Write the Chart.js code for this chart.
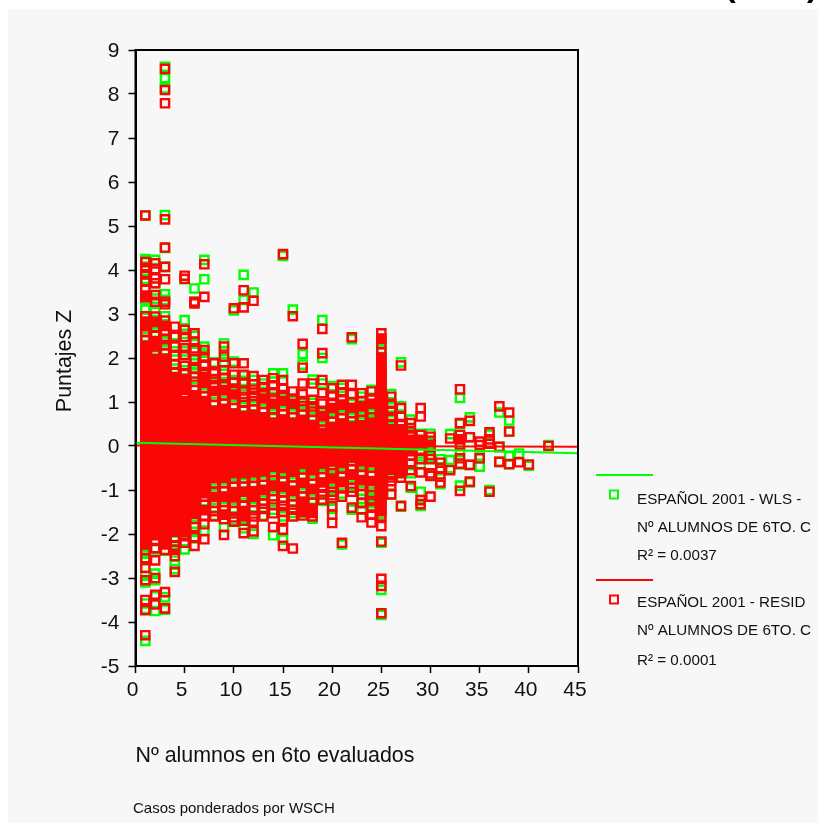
<!DOCTYPE html>
<html>
<head>
<meta charset="utf-8">
<title>Puntajes Z</title>
<script src="https://cdn.jsdelivr.net/npm/chart.js@4"></script>
<style>
  html, body { margin: 0; padding: 0; background: #fff; }
  canvas { display: block; }
</style>
</head>
<body>
<canvas id="chart" width="818" height="823"></canvas>
<script>
  // RESID values, one list per "Nº alumnos" column, highest first
  var resid1 = [5.24,4.18,4.05,3.9,3.75,3.55,3.42,3.38,2.95,2.83,2.72,2.6,2.4,2.28,2.16,2.03,1.95,1.88,1.8,1.71,1.64,1.57,1.49,1.41,1.33,1.26,1.18,1.1,1.03,.95,.87,.79,.72,.64,.56,.49,.41,.33,.26,.18,.1,.02,-.05,-.13,-.2,-.28,-.36,-.44,-.51,-.59,-.66,-.74,-.82,-.9,-.97,-1.05,-1.13,-1.2,-1.28,-1.36,-1.43,-1.51,-1.59,-1.66,-1.74,-1.82,-1.89,-1.97,-2.05,-2.13,-2.24,-2.36,-2.55,-2.77,-3.05,-3.5,-3.73,-4.3];
  var resid2 = [4.15,4.02,3.81,3.7,3.43,3.28,2.94,2.82,2.7,2.5,2.38,2.26,2.14,1.98,1.9,1.83,1.75,1.67,1.6,1.52,1.44,1.37,1.29,1.21,1.13,1.06,.98,.9,.82,.75,.67,.59,.52,.44,.36,.28,.21,.13,.05,-.02,-.1,-.18,-.26,-.33,-.41,-.49,-.56,-.64,-.72,-.8,-.87,-.95,-1.03,-1.1,-1.18,-1.26,-1.33,-1.41,-1.49,-1.57,-1.64,-1.72,-1.8,-1.87,-1.95,-2.03,-2.15,-2.32,-2.6,-3,-3.38,-3.6];
  var resid3 = [8.57,8.09,7.79,5.15,4.51,4.07,3.79,3.28,3.22,2.85,2.73,2.62,2.43,2.3,2.1,1.98,1.86,1.75,1.66,1.54,1.46,1.38,1.3,1.23,1.15,1.07,1,.92,.84,.76,.69,.61,.53,.46,.38,.3,.22,.15,.07,-.01,-.08,-.16,-.24,-.32,-.39,-.47,-.55,-.62,-.7,-.78,-.86,-.93,-1.01,-1.09,-1.16,-1.24,-1.32,-1.4,-1.47,-1.55,-1.63,-1.7,-1.78,-1.86,-1.94,-2.02,-2.12,-2.24,-2.36,-3.32,-3.69];
  var resid4 = [2.71,2.48,2.26,2.05,1.85,1.68,1.56,1.44,1.32,1.22,1.14,1.06,.99,.91,.83,.75,.68,.6,.52,.45,.37,.29,.21,.14,.06,-.02,-.09,-.17,-.25,-.33,-.4,-.48,-.56,-.63,-.71,-.79,-.87,-.94,-1.02,-1.1,-1.17,-1.25,-1.33,-1.41,-1.48,-1.56,-1.64,-1.71,-1.79,-1.87,-1.95,-2.07,-2.27,-2.36,-2.5,-2.86];
  var resid5 = [3.87,3.8,2.64,2.48,2.22,2.07,1.82,1.65,1.52,1.4,1.28,1.16,1.02,.94,.87,.79,.71,.64,.56,.48,.4,.33,.25,.17,.1,.02,-.06,-.14,-.21,-.29,-.37,-.44,-.52,-.6,-.68,-.75,-.83,-.91,-.98,-1.06,-1.14,-1.22,-1.29,-1.37,-1.45,-1.52,-1.6,-1.72,-1.84,-1.95,-2.05,-2.2];
  var resid6 = [3.28,3.24,2.56,2.37,2.22,1.98,1.75,1.58,1.46,1.27,1.15,1.03,.92,.85,.77,.69,.62,.54,.46,.38,.31,.23,.15,.08,0,-.08,-.16,-.23,-.31,-.39,-.46,-.54,-.62,-.7,-.77,-.85,-.93,-1,-1.08,-1.16,-1.24,-1.31,-1.39,-1.47,-1.54,-1.66,-1.84,-2.07,-2.27];
  var resid7 = [4.13,3.39,2.18,2.03,1.82,1.68,1.56,1.44,1.32,1.13,1.02,.94,.86,.78,.7,.63,.55,.47,.4,.32,.24,.16,.09,.01,-.07,-.14,-.22,-.3,-.38,-.45,-.53,-.61,-.68,-.76,-.84,-.92,-.99,-1.07,-1.15,-1.34,-1.46,-1.58,-1.78,-2.12];
  var resid8 = [1.88,1.65,1.52,1.38,1.25,1.12,.93,.8,.68,.55,.47,.39,.31,.24,.16,.08,.01,-.07,-.15,-.22,-.3,-.38,-.46,-.53,-.61,-.73,-.85,-1.04,-1.16,-1.29,-1.48,-1.6];
  var resid9 = [2.26,2.03,1.72,1.55,1.4,1.27,1.15,.96,.84,.72,.6,.47,.4,.32,.24,.17,.09,.01,-.06,-.14,-.22,-.3,-.37,-.45,-.53,-.6,-.72,-.84,-1.03,-1.15,-1.27,-1.46,-1.56,-1.66,-2.02];
  var resid10 = [3.13,1.88,1.62,1.44,1.3,1.17,1.05,.86,.74,.62,.5,.39,.31,.23,.15,.08,0,-.08,-.15,-.23,-.31,-.39,-.46,-.54,-.62,-.74,-.93,-1.05,-1.17,-1.29,-1.48,-1.62,-1.72];
  var resid11 = [3.54,3.15,1.88,1.62,1.42,1.26,1.12,1,.8,.68,.56,.44,.35,.27,.19,.12,.04,-.04,-.11,-.19,-.27,-.35,-.42,-.5,-.62,-.74,-.92,-1.04,-1.16,-1.36,-1.48,-1.6,-1.7,-1.98];
  var resid12 = [3.3,1.59,1.4,1.28,1.14,1.02,.83,.71,.59,.47,.36,.29,.21,.13,.06,-.02,-.1,-.18,-.25,-.33,-.41,-.48,-.6,-.72,-.91,-1.03,-1.15,-1.27,-1.46,-1.6,-1.72,-1.94];
  var resid13 = [1.5,1.34,1.2,1.08,.96,.77,.65,.53,.42,.31,.23,.15,.08,0,-.08,-.16,-.23,-.31,-.39,-.46,-.58,-.7,-.88,-1,-1.12,-1.31,-1.43,-1.6];
  var resid14 = [1.54,1.38,1.22,1.08,.96,.84,.65,.53,.42,.3,.23,.15,.07,-.01,-.08,-.16,-.24,-.31,-.39,-.47,-.59,-.78,-.9,-1.02,-1.21,-1.33,-1.53,-1.84];
  var resid15 = [4.36,1.5,1.3,1.16,1.03,.91,.72,.6,.48,.36,.28,.2,.12,.04,-.03,-.11,-.19,-.26,-.34,-.42,-.5,-.62,-.81,-.93,-1.05,-1.24,-1.36,-1.5,-1.68,-1.9,-2.27];
  var resid16 = [2.95,1.24,1.08,.96,.84,.65,.53,.41,.3,.22,.15,.07,-.01,-.08,-.16,-.24,-.32,-.39,-.47,-.59,-.71,-.9,-1.02,-1.14,-1.33,-1.45,-1.6,-2.33];
  var resid17 = [2.32,1.78,1.42,1.18,1.02,.9,.71,.59,.47,.36,.28,.2,.13,.05,-.03,-.11,-.18,-.26,-.34,-.41,-.53,-.72,-.84,-.96,-1.15,-1.27,-1.38,-1.5,-1.58];
  var resid18 = [1.42,1.05,.9,.78,.59,.47,.35,.26,.18,.11,.03,-.05,-.12,-.2,-.28,-.36,-.43,-.55,-.67,-.86,-.98,-1.1,-1.29,-1.42,-1.52,-1.6];
  var resid19 = [2.66,2.11,1.5,1.2,.96,.8,.68,.56,.37,.3,.22,.14,.06,-.01,-.09,-.17,-.24,-.32,-.4,-.52,-.71,-.83,-.95,-1.1,-1.22];
  var resid20 = [1.31,1.14,.98,.86,.74,.55,.43,.34,.26,.19,.11,.03,-.04,-.12,-.2,-.28,-.35,-.43,-.62,-.74,-.86,-1.04,-1.12,-1.37,-1.56,-1.75];
  var resid21 = [1.39,1.22,1.06,.94,.82,.63,.51,.39,.3,.23,.15,.07,0,-.08,-.16,-.24,-.31,-.39,-.51,-.7,-.82,-.94,-1.15,-2.2];
  var resid22 = [2.47,1.39,1.18,1,.87,.75,.56,.44,.35,.28,.2,.12,.04,-.03,-.11,-.19,-.26,-.34,-.53,-.65,-.77,-.95,-1.04,-1.4];
  var resid23 = [1.2,1.02,.9,.78,.59,.47,.35,.26,.19,.11,.03,-.04,-.12,-.2,-.28,-.35,-.47,-.66,-.78,-.9,-1.1,-1.3,-1.62];
  var resid24 = [1.24,1.08,.96,.84,.65,.53,.41,.33,.25,.17,.1,.02,-.06,-.14,-.21,-.29,-.37,-.49,-.68,-.8,-.92,-1.12,-1.25,-1.4,-1.56,-1.74];
  var resid25 = [2.56,2.44,2.32,2.13,2.01,1.88,1.81,1.73,1.65,1.58,1.5,1.42,1.34,1.27,1.19,1.11,1.04,.96,.88,.8,.73,.65,.57,.5,.42,.34,.26,.19,.11,.03,-.04,-.12,-.2,-.28,-.35,-.43,-.51,-.58,-.66,-.74,-.82,-.89,-.97,-1.05,-1.12,-1.2,-1.28,-1.36,-1.48,-1.6,-1.82,-2.17,-3.02,-3.18,-3.8];
  var resid26 = [1.12,.96,.8,.66,.5,.38,.3,.22,.14,.06,-.02,-.1,-.18,-.26,-.34,-.42,-.54,-.66,-.8,-.9,-1.1];
  var resid27 = [1.83,.86,.66,.5,.38,.28,.18,.08,0,-.08,-.18,-.28,-.38,-.5,-.62,-.72,-1.36];
  var resid28 = [.52,.4,.25,.14,.06,-.04,-.12,-.22,-.4,-.55,-.91];
  var resid29 = [.86,.67,.25,.14,.06,-.08,-.3,-.6,-1.23,-1.32];
  var resid30 = [.21,.12,-.02,-.2,-.3,-.62,-.68,-1.15];
  var resid31 = [-.38,-.5,-.7,-.83];
  var resid32 = [.17,-.55];
  var resid33 = [1.29,.52,.25,.15,.02,-.28,-.4,-1.02];
  var resid34 = [.57,.2,-.43,-.81];
  var resid35 = [.1,.02,-.28];
  var resid36 = [.31,.15,.05,-1.04];
  var resid37 = [.9,-.02,-.36];
  var resid38 = [.76,.33,-.41];
  var resid39 = [-.37];
  var resid40 = [-.42];
  var resid42 = [0];

  // WLS values, only what shows around and through the red mass
  var wls1 = [5.24,4.25,4.2,4.08,3.9,3.8,3.4,3.33,3.1,2.48,2.05,1.36,.74,-1.3,-2.3,-2.45,-2.6,-2.95,-3.1,-3.58,-3.7,-4.43];
  var wls2 = [4.23,3.7,3.35,3.05,2.77,2.58,2.06,1.1,-.8,-1.9,-2.35,-2.9,-3.05,-3.42,-3.75];
  var wls3 = [8.62,8.36,8.13,5.25,4.5,4.07,3.45,3.32,2.95,2.56,2.38,2.18,1.96,.9,-1.45,-2.16,-2.38,-3.44,-3.72];
  var wls4 = [2.52,2.15,1.76,1.5,1.27,.1,-1.6,-2.15,-2.42,-2.7,-2.8];
  var wls5 = [3.79,2.86,2.55,2.15,1.72,1.45,1.2,.5,-1.1,-1.66,-2,-2.35];
  var wls6 = [3.58,3.28,2.5,2.14,1.88,1.65,1.34,.9,-.6,-1.6,-1.95,-2.1];
  var wls7 = [4.23,3.79,2.26,2.12,1.85,1.62,1.2,.8,-1,-1.25,-1.92];
  var wls8 = [1.9,1.42,1,.69,.2,-.9,-.97,-1.41,-1.58];
  var wls9 = [2.33,2.16,1.9,1.64,1.34,1.03,.69,-.66,-.96,-1.39,-1.85];
  var wls10 = [3.08,1.92,1.5,1.22,.93,.71,-.68,-.86,-1.41,-1.68];
  var wls11 = [3.89,3.32,1.6,1.48,1.18,.88,.68,-.56,-.85,-1.29,-1.66,-1.87];
  var wls12 = [3.49,1.5,1.2,.9,.7,-.54,-.84,-1.39,-2];
  var wls13 = [1.42,1.14,.84,.63,-.52,-.81,-1.24,-1.58];
  var wls14 = [1.65,1.12,.72,.63,-.66,-.71,-1.14,-1.45,-2.03];
  var wls15 = [4.32,1.65,1.09,.79,.59,-.56,-.74,-1.17,-1.6,-2.13];
  var wls16 = [3.1,1.02,.72,.52,-.53,-.83,-1.26,-1.52];
  var wls17 = [2.09,1.85,.96,.78,.47,-.47,-.65,-1.08,-1.52];
  var wls18 = [1.51,.98,.84,.66,.48,-.5,-.79,-1.22,-1.65];
  var wls19 = [2.86,2,1.42,.74,.44,-.46,-.64,-.94,-1.25];
  var wls20 = [1.36,.8,.62,-.5,-.55,-.98,-1.18,-1.43];
  var wls21 = [1.32,.88,.7,.42,-.46,-.63,-1.08,-2.24];
  var wls22 = [2.43,.95,.63,.47,-.46,-.66,-.9,-1.45];
  var wls23 = [1.12,.72,.66,-.42,-.59,-1.02,-1.2,-1.45];
  var wls24 = [1.28,.78,.72,.54,-.61,-1.05,-1.18,-1.3];
  var wls25 = [2.38,2.2,2.02,1.4,.2,-1.1,-1.54,-2.2,-3.27,-3.84];
  var wls26 = [1.18,.88,.58,.44,.08,-.48,-.6,-1.1];
  var wls27 = [1.9,.9,.15,-.2,-.5,-1.38];
  var wls28 = [.6,.3,.1,-.05,-.62,-.95];
  var wls29 = [.28,.1,-.17,-.42,-1.04,-1.36];
  var wls30 = [.28,.05,-.25,-.66];
  var wls31 = [-.3,-.55,-.87];
  var wls32 = [.27,-.32,-.5];
  var wls33 = [1.09,.5,.25,-.14,-.42,-.9];
  var wls34 = [.65,.2,-.43,-.83];
  var wls35 = [-.22,-.47];
  var wls36 = [.26,.05,-1];
  var wls37 = [.76,-.02,-.36];
  var wls38 = [.58,.33,-.23,-.42];
  var wls39 = [-.17];
  var wls40 = [-.45];
  var wls42 = [.02];

  var alumnos = [1,2,3,4,5,6,7,8,9,10,11,12,13,14,15,16,17,18,19,20,21,22,23,24,25,26,27,28,29,30,31,32,33,34,35,36,37,38,39,40,42];
  var residCols = [resid1,resid2,resid3,resid4,resid5,resid6,resid7,resid8,resid9,resid10,resid11,resid12,resid13,resid14,resid15,resid16,resid17,resid18,resid19,resid20,resid21,resid22,resid23,resid24,resid25,resid26,resid27,resid28,resid29,resid30,resid31,resid32,resid33,resid34,resid35,resid36,resid37,resid38,resid39,resid40,resid42];
  var wlsCols = [wls1,wls2,wls3,wls4,wls5,wls6,wls7,wls8,wls9,wls10,wls11,wls12,wls13,wls14,wls15,wls16,wls17,wls18,wls19,wls20,wls21,wls22,wls23,wls24,wls25,wls26,wls27,wls28,wls29,wls30,wls31,wls32,wls33,wls34,wls35,wls36,wls37,wls38,wls39,wls40,wls42];

  // fit lines, both ends
  var fitX = [0, 45];
  var fitWls = [0.075, -0.167];
  var fitResid = [0.01, -0.015];

  var xTicks = [0,5,10,15,20,25,30,35,40,45];
  var legendWls = ['ESPAÑOL 2001 - WLS -', 'Nº ALUMNOS DE 6TO. C', 'R² = 0.0037'];
  var legendResid = ['ESPAÑOL 2001 - RESID', 'Nº ALUMNOS DE 6TO. C', 'R² = 0.0001'];

  var GREEN = '#00ff00';
  var RED = '#fb0606';
  var TEXT = '#111';
  var FONT = '"Liberation Sans", Arial, sans-serif';

  // squares packed tighter than their own hole read as solid in the picture
  function isPacked(col, j) {
    var up = j > 0 ? col[j - 1] - col[j] : 9;
    var down = j < col.length - 1 ? col[j] - col[j + 1] : 9;
    return up <= 0.135 && down <= 0.135;
  }

  function toPoints(cols) {
    var pts = [];
    cols.forEach(function(col, i) {
      col.forEach(function(v, j) {
        pts.push({ x: alumnos[i], y: v, packed: isPacked(col, j) });
      });
    });
    return pts;
  }

  function toLine(ys) {
    return [{ x: fitX[0], y: ys[0] }, { x: fitX[1], y: ys[1] }];
  }

  function scatterSet(label, cols, color, order, fillPacked) {
    return {
      label: label,
      data: toPoints(cols),
      pointStyle: 'rect',
      pointRadius: 5.8,
      pointBorderWidth: 2.4,
      pointBorderColor: color,
      pointBackgroundColor: function(c) {
        return fillPacked && c.raw && c.raw.packed ? color : 'transparent';
      },
      showLine: false,
      order: order
    };
  }

  function lineSet(label, ys, color, order) {
    return {
      label: label,
      data: toLine(ys),
      showLine: true,
      borderColor: color,
      borderWidth: 2,
      pointRadius: 0,
      order: order
    };
  }

  function drawLegendBlock(ctx, lineY, color, lines, textY) {
    ctx.strokeStyle = color;
    ctx.lineWidth = 2;
    ctx.beginPath();
    ctx.moveTo(596, lineY);
    ctx.lineTo(653, lineY);
    ctx.stroke();
    ctx.strokeRect(610, lineY + 15.5, 8, 8);
    ctx.fillStyle = TEXT;
    ctx.font = '15.2px ' + FONT;
    ctx.textAlign = 'left';
    ctx.textBaseline = 'middle';
    lines.forEach(function(t, i) {
      ctx.fillText(t, 637, textY[i]);
    });
  }

  var panelPlugin = {
    id: 'panel',
    beforeDraw: function(chart) {
      var ctx = chart.ctx;
      ctx.save();
      ctx.fillStyle = '#f7f7f7';
      ctx.fillRect(8, 9, 810, 814);
      ctx.restore();
    },
    afterDraw: function(chart) {
      var ctx = chart.ctx;
      var a = chart.chartArea;
      ctx.save();
      ctx.strokeStyle = '#000';
      ctx.lineWidth = 2;
      ctx.strokeRect(a.left, a.top, a.right - a.left, a.bottom - a.top);

      drawLegendBlock(ctx, 475, GREEN, legendWls, [500, 528, 556]);
      drawLegendBlock(ctx, 580, RED, legendResid, [603, 631, 661]);

      ctx.fillStyle = TEXT;
      ctx.textAlign = 'left';
      ctx.textBaseline = 'alphabetic';
      ctx.font = '15px ' + FONT;
      ctx.fillText('Casos ponderados por WSCH', 133, 813);

      // y title sits a little below the middle of the axis
      ctx.save();
      ctx.translate(71, 361);
      ctx.rotate(-Math.PI / 2);
      ctx.textAlign = 'center';
      ctx.font = '21.4px ' + FONT;
      ctx.fillText('Puntajes Z', 0, 0);
      ctx.restore();

      // bottoms of the parentheses cut off by the top of the picture
      ctx.font = 'bold 32px ' + FONT;
      ctx.fillStyle = '#000';
      ctx.fillText('(', 725, -4);
      ctx.fillText(')', 807, -4);
      ctx.restore();
    }
  };

  var chart = new Chart(document.getElementById('chart').getContext('2d'), {
    type: 'scatter',
    data: {
      datasets: [
        scatterSet('ESPAÑOL 2001 - WLS', wlsCols, GREEN, 4, false),
        scatterSet('ESPAÑOL 2001 - RESID', residCols, RED, 3, true),
        lineSet('Ajuste RESID', fitResid, RED, 2),
        lineSet('Ajuste WLS', fitWls, GREEN, 1)
      ]
    },
    options: {
      responsive: false,
      animation: false,
      layout: { padding: { top: 50, right: 240, bottom: 0, left: 0 } },
      plugins: { legend: { display: false }, tooltip: { enabled: false } },
      scales: {
        x: {
          type: 'linear',
          min: 0,
          max: 45,
          afterBuildTicks: function(scale) {
            scale.ticks = xTicks.map(function(v) { return { value: v }; });
          },
          afterFit: function(scale) { scale.height = 157; },
          grid: { drawOnChartArea: false, tickColor: '#000', tickWidth: 1.5, tickLength: 7 },
          border: { color: '#000', width: 2 },
          ticks: { color: TEXT, font: { family: FONT, size: 21 }, padding: 5, maxRotation: 0, labelOffset: -3, autoSkip: false },
          title: {
            display: true,
            text: 'Nº alumnos en 6to evaluados',
            align: 'start',
            color: TEXT,
            font: { family: FONT, size: 21.4 },
            padding: { top: 0, bottom: 54 }
          }
        },
        y: {
          type: 'linear',
          min: -5,
          max: 9,
          afterFit: function(scale) { scale.width = 135.5; },
          grid: { drawOnChartArea: false, tickColor: '#000', tickWidth: 1.5, tickLength: 7 },
          border: { color: '#000', width: 2 },
          ticks: { color: TEXT, font: { family: FONT, size: 21 }, padding: 9, stepSize: 1, labelOffset: 1.5 }
        }
      }
    },
    plugins: [panelPlugin]
  });
</script>
</body>
</html>
